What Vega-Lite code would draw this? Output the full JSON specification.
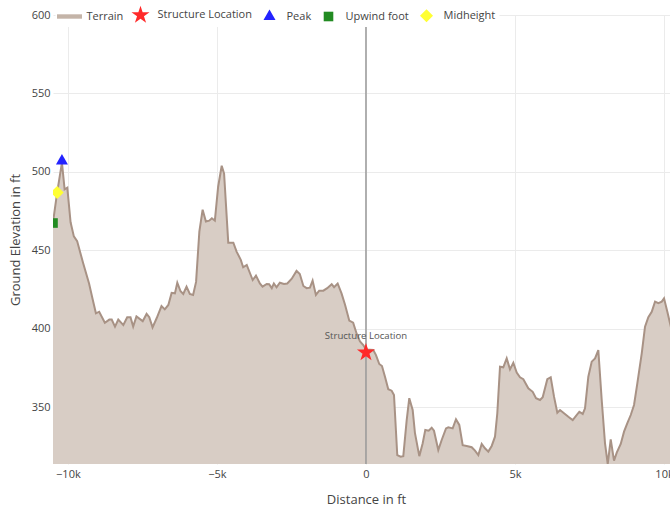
{
  "$schema": "https://vega.github.io/schema/vega-lite/v6.json",
  "width": 617,
  "height": 449,
  "autosize": {"type": "none"},
  "padding": {"left": 53, "top": 15, "right": 0, "bottom": 45},
  "background": "white",
  "config": {
    "view": {"stroke": null},
    "font": "Open Sans",
    "axis": {
      "grid": true, "gridColor": "#ebebeb", "gridWidth": 1,
      "domain": false, "ticks": false,
      "labelFont": "Open Sans", "labelFontSize": 11, "labelColor": "#444",
      "titleFont": "Open Sans", "titleFontSize": 13, "titleFontWeight": "normal", "titleColor": "#444"
    }
  },
  "datasets": {
    "terrain": [
      {"x": -10500, "elev": 468}, {"x": -10360, "elev": 487}, {"x": -10200, "elev": 506},
      {"x": -10110, "elev": 489}, {"x": -10020, "elev": 490}, {"x": -9910, "elev": 468},
      {"x": -9800, "elev": 459}, {"x": -9690, "elev": 456}, {"x": -9490, "elev": 442},
      {"x": -9290, "elev": 429}, {"x": -9170, "elev": 419}, {"x": -9060, "elev": 410},
      {"x": -8950, "elev": 411}, {"x": -8760, "elev": 404}, {"x": -8610, "elev": 406},
      {"x": -8530, "elev": 406}, {"x": -8420, "elev": 401.5}, {"x": -8310, "elev": 406},
      {"x": -8140, "elev": 402.5}, {"x": -8010, "elev": 407.5}, {"x": -7900, "elev": 407.5},
      {"x": -7810, "elev": 401.5}, {"x": -7700, "elev": 408}, {"x": -7490, "elev": 405},
      {"x": -7360, "elev": 409.6}, {"x": -7270, "elev": 407.5}, {"x": -7160, "elev": 401},
      {"x": -7020, "elev": 407}, {"x": -6860, "elev": 414.6}, {"x": -6750, "elev": 412.5},
      {"x": -6630, "elev": 415.3}, {"x": -6520, "elev": 423}, {"x": -6410, "elev": 422.7},
      {"x": -6330, "elev": 429.5}, {"x": -6220, "elev": 424}, {"x": -6130, "elev": 422.3},
      {"x": -6020, "elev": 427}, {"x": -5910, "elev": 422.3}, {"x": -5800, "elev": 421.7},
      {"x": -5700, "elev": 430}, {"x": -5590, "elev": 462}, {"x": -5480, "elev": 476},
      {"x": -5370, "elev": 468.5}, {"x": -5260, "elev": 469}, {"x": -5170, "elev": 470.5},
      {"x": -5070, "elev": 469}, {"x": -4960, "elev": 490.6}, {"x": -4840, "elev": 504},
      {"x": -4760, "elev": 499}, {"x": -4620, "elev": 455}, {"x": -4450, "elev": 455},
      {"x": -4340, "elev": 449.3}, {"x": -4200, "elev": 444}, {"x": -4120, "elev": 439.3},
      {"x": -4000, "elev": 440.8}, {"x": -3890, "elev": 435.5}, {"x": -3800, "elev": 431.2},
      {"x": -3690, "elev": 434}, {"x": -3560, "elev": 429}, {"x": -3470, "elev": 427},
      {"x": -3330, "elev": 428.7}, {"x": -3250, "elev": 428.5}, {"x": -3160, "elev": 426},
      {"x": -3090, "elev": 429}, {"x": -3000, "elev": 426.6}, {"x": -2890, "elev": 429.5},
      {"x": -2750, "elev": 428.7}, {"x": -2640, "elev": 429}, {"x": -2490, "elev": 432},
      {"x": -2330, "elev": 437}, {"x": -2220, "elev": 435}, {"x": -2100, "elev": 427.4},
      {"x": -1990, "elev": 426}, {"x": -1880, "elev": 426.3}, {"x": -1790, "elev": 430.8},
      {"x": -1680, "elev": 421.7}, {"x": -1570, "elev": 424.4}, {"x": -1430, "elev": 424.4},
      {"x": -1300, "elev": 426}, {"x": -1150, "elev": 428.5}, {"x": -1070, "elev": 426.6},
      {"x": -950, "elev": 429}, {"x": -820, "elev": 422.7}, {"x": -700, "elev": 415.3},
      {"x": -560, "elev": 405.3}, {"x": -430, "elev": 404}, {"x": -310, "elev": 396.8},
      {"x": -200, "elev": 392}, {"x": -90, "elev": 389.8}, {"x": 0, "elev": 387},
      {"x": 245, "elev": 386.6}, {"x": 336, "elev": 383.4}, {"x": 446, "elev": 377.7},
      {"x": 537, "elev": 376.4}, {"x": 638, "elev": 369.6}, {"x": 748, "elev": 361.6},
      {"x": 862, "elev": 360.7}, {"x": 940, "elev": 358}, {"x": 1050, "elev": 319.7},
      {"x": 1164, "elev": 318.7}, {"x": 1252, "elev": 319}, {"x": 1366, "elev": 342},
      {"x": 1453, "elev": 355.9}, {"x": 1567, "elev": 348.4}, {"x": 1644, "elev": 333.6},
      {"x": 1789, "elev": 319}, {"x": 1903, "elev": 327.2}, {"x": 1990, "elev": 335.7},
      {"x": 2104, "elev": 335.2}, {"x": 2205, "elev": 337.1}, {"x": 2282, "elev": 335.2},
      {"x": 2426, "elev": 322.9}, {"x": 2540, "elev": 329.3}, {"x": 2685, "elev": 336.7},
      {"x": 2762, "elev": 337.4}, {"x": 2909, "elev": 336.7}, {"x": 3020, "elev": 342.5},
      {"x": 3131, "elev": 338.9}, {"x": 3245, "elev": 326}, {"x": 3379, "elev": 325.5},
      {"x": 3547, "elev": 324.7}, {"x": 3658, "elev": 322.5}, {"x": 3769, "elev": 319.7},
      {"x": 3883, "elev": 326.8}, {"x": 3993, "elev": 324}, {"x": 4104, "elev": 321.9},
      {"x": 4218, "elev": 325.5}, {"x": 4329, "elev": 331.4}, {"x": 4406, "elev": 346.3},
      {"x": 4497, "elev": 376}, {"x": 4607, "elev": 375.6}, {"x": 4721, "elev": 381.3},
      {"x": 4832, "elev": 374.3}, {"x": 4943, "elev": 378.5}, {"x": 5057, "elev": 372.2},
      {"x": 5168, "elev": 369.2}, {"x": 5279, "elev": 368}, {"x": 5446, "elev": 362.2},
      {"x": 5594, "elev": 360}, {"x": 5705, "elev": 355.9}, {"x": 5839, "elev": 354.8},
      {"x": 5929, "elev": 356.5}, {"x": 6084, "elev": 368}, {"x": 6198, "elev": 369.2},
      {"x": 6309, "elev": 356.9}, {"x": 6420, "elev": 346.7}, {"x": 6510, "elev": 348.4},
      {"x": 6644, "elev": 346.3}, {"x": 6789, "elev": 344.1}, {"x": 6936, "elev": 342},
      {"x": 7047, "elev": 344.6}, {"x": 7158, "elev": 347.3}, {"x": 7272, "elev": 345.9},
      {"x": 7349, "elev": 349.5}, {"x": 7460, "elev": 369.6}, {"x": 7574, "elev": 379.2},
      {"x": 7685, "elev": 381.3}, {"x": 7795, "elev": 386.6}, {"x": 7909, "elev": 354.8},
      {"x": 8020, "elev": 327.2}, {"x": 8111, "elev": 314}, {"x": 8211, "elev": 329.7},
      {"x": 8322, "elev": 316.1}, {"x": 8413, "elev": 321.2}, {"x": 8547, "elev": 326.8},
      {"x": 8658, "elev": 334.6}, {"x": 8769, "elev": 340}, {"x": 8883, "elev": 345.2},
      {"x": 8993, "elev": 351.6}, {"x": 9104, "elev": 365.4}, {"x": 9252, "elev": 384.5},
      {"x": 9362, "elev": 401.5}, {"x": 9473, "elev": 407.5}, {"x": 9587, "elev": 411},
      {"x": 9698, "elev": 417.4}, {"x": 9809, "elev": 416.4}, {"x": 9923, "elev": 417.4},
      {"x": 10000, "elev": 419.5}, {"x": 10111, "elev": 411}, {"x": 10201, "elev": 403.6},
      {"x": 10300, "elev": 396}
    ],
    "markers": [
      {"name": "Structure Location", "x": 0, "elev": 385},
      {"name": "Peak", "x": -10200, "elev": 507},
      {"name": "Upwind foot", "x": -10500, "elev": 467.5},
      {"name": "Midheight", "x": -10360, "elev": 487}
    ]
  },
  "layer": [
    {
      "data": {"name": "terrain"},
      "mark": {"type": "area", "color": "#d8cdc5", "opacity": 1, "clip": true},
      "encoding": {
        "x": {
          "field": "x", "type": "quantitative",
          "scale": {"domain": [-10500, 10200], "nice": false, "zero": false},
          "axis": {"values": [-10000, -5000, 0, 5000, 10000], "labelExpr": "datum.value == 0 ? '0' : format(datum.value / 1000, 'd') + 'k'", "title": "Distance in ft", "labelPadding": 4, "titlePadding": 14, "titleX": 313}
        },
        "y": {
          "field": "elev", "type": "quantitative",
          "scale": {"domain": [314, 600], "nice": false, "zero": false},
          "axis": {"values": [350, 400, 450, 500, 550, 600], "title": "Ground Elevation in ft", "labelPadding": 3, "titlePadding": 9}
        }
      }
    },
    {
      "data": {"name": "terrain"},
      "mark": {"type": "line", "color": "#a89285", "strokeWidth": 2, "clip": true},
      "encoding": {
        "x": {"field": "x", "type": "quantitative"},
        "y": {"field": "elev", "type": "quantitative"}
      }
    },
    {
      "data": {"name": "markers"},
      "transform": [{"filter": "datum.name === 'Structure Location'"}],
      "mark": {"type": "rule", "color": "#999999", "strokeWidth": 1.5},
      "encoding": {
        "x": {"field": "x", "type": "quantitative"}
      }
    },
    {
      "data": {"name": "markers"},
      "mark": {"type": "point", "filled": true, "opacity": 1, "size": 400, "clip": true, "strokeWidth": 0},
      "encoding": {
        "x": {"field": "x", "type": "quantitative"},
        "y": {"field": "elev", "type": "quantitative"},
        "color": {
          "field": "name", "type": "nominal",
          "scale": {
            "domain": ["Terrain", "Structure Location", "Peak", "Upwind foot", "Midheight"],
            "range": ["#c4b4a8", "#ff2a2a", "#2323ff", "#228b22", "#ffff33"]
          },
          "legend": {
            "title": null, "orient": "none", "direction": "horizontal",
            "legendX": 2.5, "legendY": -14, "fillColor": "white", "padding": 4,
            "symbolSize": 400, "labelOffset": 7, "columnPadding": 7,
            "labelFont": "Open Sans", "labelFontSize": 11, "labelColor": "#444",
            "symbolStrokeWidth": 0, "symbolOpacity": 1
          }
        },
        "shape": {
          "field": "name", "type": "nominal",
          "scale": {
            "domain": ["Terrain", "Structure Location", "Peak", "Upwind foot", "Midheight"],
            "range": [
              "M-1.25,-0.22H1.25V0.22H-1.25Z",
              "M0,-0.95L0.213,-0.294L0.903,-0.294L0.345,0.112L0.559,0.769L0,0.363L-0.559,0.769L-0.345,0.112L-0.903,-0.294L-0.213,-0.294Z",
              "M0,-0.7L0.6,0.35L-0.6,0.35Z",
              "M-0.48,-0.48H0.48V0.48H-0.48Z",
              "M0,-0.65L0.65,0L0,0.65L-0.65,0Z"
            ]
          },
          "legend": {
            "title": null, "orient": "none", "direction": "horizontal",
            "legendX": 2.5, "legendY": -14, "fillColor": "white", "padding": 4,
            "symbolSize": 400, "labelOffset": 7, "columnPadding": 7,
            "labelFont": "Open Sans", "labelFontSize": 11, "labelColor": "#444",
            "symbolStrokeWidth": 0, "symbolOpacity": 1
          }
        }
      }
    },
    {
      "data": {"name": "markers"},
      "transform": [{"filter": "datum.name === 'Structure Location'"}],
      "mark": {"type": "text", "dy": -17, "fontSize": 9.6, "color": "#555", "font": "Open Sans"},
      "encoding": {
        "x": {"field": "x", "type": "quantitative"},
        "y": {"field": "elev", "type": "quantitative"},
        "text": {"field": "name"}
      }
    }
  ]
}
